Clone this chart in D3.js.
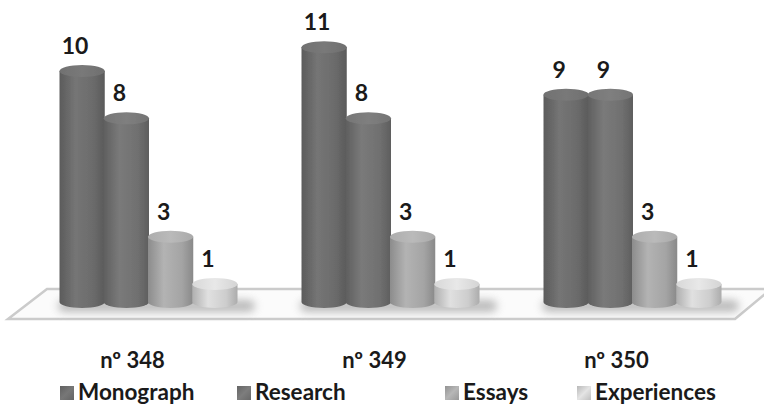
<!DOCTYPE html>
<html>
<head>
<meta charset="utf-8">
<script src="https://cdn.jsdelivr.net/npm/d3@7/dist/d3.min.js"></script>
<style>
  html, body { margin: 0; padding: 0; background: #ffffff; }
  svg { display: block; }
  text { font-family: Lato, "Open Sans", "Liberation Sans", sans-serif; font-weight: 700; fill: #1a1a1a; }
</style>
</head>
<body>
<svg id="chart" width="764" height="407"></svg>
<script>
// Issues and article types
const categories = ["nº 348", "nº 349", "nº 350"];
const seriesNames = ["Monograph", "Research", "Essays", "Experiences"];
const monograph = [10, 11, 9];
const research = [8, 8, 9];
const essays = [3, 3, 3];
const experiences = [1, 1, 1];
const seriesValues = [monograph, research, essays, experiences];
const seriesColors = ["#6b6b6b", "#707070", "#a4a4a4", "#cdcdcd"];

const svg = d3.select("#chart");

// scales
const x0 = d3.scaleBand().domain(categories).range([60, 60 + 242 * 3]).paddingInner(0).paddingOuter(0);
const groupW = 177;
const x1 = d3.scaleBand().domain(seriesNames).range([0, groupW]).padding(0);
const y = d3.scaleLinear().domain([0, 11]).range([307.7, 307.7 - 11 * 23.67]);
const baseY = 302;   // center of the cylinders' bottom ellipse
const ry = 6;

const defs = svg.append("defs");

// horizontal shading for each cylinder series
seriesNames.forEach((s, i) => {
  const c = d3.color(seriesColors[i]);
  const g = defs.append("linearGradient").attr("id", "cyl" + i).attr("x1", "0").attr("x2", "1").attr("y1", "0").attr("y2", "0");
  g.append("stop").attr("offset", "0%").attr("stop-color", c.darker(0.45));
  g.append("stop").attr("offset", "35%").attr("stop-color", c.brighter(0.25));
  g.append("stop").attr("offset", "75%").attr("stop-color", c);
  g.append("stop").attr("offset", "100%").attr("stop-color", c.darker(0.5));
  const t = defs.append("linearGradient").attr("id", "top" + i).attr("x1", "0").attr("x2", "1").attr("y1", "0").attr("y2", "0");
  t.append("stop").attr("offset", "0%").attr("stop-color", c.brighter(0.15));
  t.append("stop").attr("offset", "50%").attr("stop-color", c.brighter(0.35));
  t.append("stop").attr("offset", "100%").attr("stop-color", c.brighter(0.1));
  const sw = defs.append("linearGradient").attr("id", "sw" + i).attr("x1", "0").attr("x2", "1").attr("y1", "0").attr("y2", "1");
  sw.append("stop").attr("offset", "0%").attr("stop-color", c.darker(0.3));
  sw.append("stop").attr("offset", "50%").attr("stop-color", c.brighter(0.3));
  sw.append("stop").attr("offset", "100%").attr("stop-color", c.darker(0.2));
});

defs.append("filter").attr("id", "soft").attr("x", "-20%").attr("y", "-100%").attr("width", "140%").attr("height", "300%")
  .append("feGaussianBlur").attr("stdDeviation", 4);
defs.append("filter").attr("id", "haze").append("feGaussianBlur").attr("stdDeviation", 0.5);

// floor
svg.append("path")
  .attr("d", "M47,289 L771,289 L735,319 L8,319 Z")
  .attr("fill", "#fbfbfb")
  .attr("stroke", "#cbcbcb")
  .attr("stroke-width", 2.5);

// soft shadows under the groups
svg.append("g").selectAll("rect")
  .data(categories)
  .join("rect")
  .attr("x", d => x0(d) - 2)
  .attr("y", baseY - 2)
  .attr("width", groupW + 20)
  .attr("height", 12)
  .attr("rx", 6)
  .attr("fill", "#909090")
  .attr("opacity", 0.6)
  .attr("filter", "url(#soft)");

// cylinders
const bars = [];
categories.forEach((cat, ci) => {
  seriesNames.forEach((s, si) => {
    bars.push({ cat, s, si, v: seriesValues[si][ci] });
  });
});

const cylG = svg.append("g").attr("filter", "url(#haze)");
const cyl = cylG.selectAll("g.cyl").data(bars).join("g").attr("class", "cyl");

cyl.each(function (d) {
  const g = d3.select(this);
  const rx = x1.bandwidth() / 2 + 0.5;
  const cx = x0(d.cat) + x1(d.s) + x1.bandwidth() / 2;
  const ty = y(d.v);
  g.append("path")
    .attr("d", `M${cx - rx},${ty} L${cx - rx},${baseY} A${rx},${ry} 0 0 0 ${cx + rx},${baseY} L${cx + rx},${ty} Z`)
    .attr("fill", `url(#cyl${d.si})`);
  g.append("ellipse")
    .attr("cx", cx).attr("cy", ty).attr("rx", rx).attr("ry", ry)
    .attr("fill", `url(#top${d.si})`);
});

// value labels
svg.append("g").selectAll("text")
  .data(bars)
  .join("text")
  .attr("x", d => x0(d.cat) + x1(d.s) + x1.bandwidth() / 2 - 7)
  .attr("y", d => y(d.v) - ry - 11)
  .attr("text-anchor", "middle")
  .attr("font-size", 23)
  .text(d => d.v);

// category labels
svg.append("g").selectAll("text")
  .data(categories)
  .join("text")
  .attr("x", d => x0(d) + groupW / 2 - 16)
  .attr("y", 368)
  .attr("text-anchor", "middle")
  .attr("font-size", 22)
  .text(d => d);

// legend
const legendX = [60, 237, 445, 577];
const leg = svg.append("g").selectAll("g").data(seriesNames).join("g")
  .attr("transform", (d, i) => `translate(${legendX[i]},0)`);
leg.append("rect")
  .attr("x", 0).attr("y", 386).attr("width", 14).attr("height", 14)
  .attr("fill", (d, i) => `url(#sw${i})`);
leg.append("text")
  .attr("x", 18).attr("y", 400)
  .attr("font-size", 22.5)
  .text(d => d);
</script>
</body>
</html>
